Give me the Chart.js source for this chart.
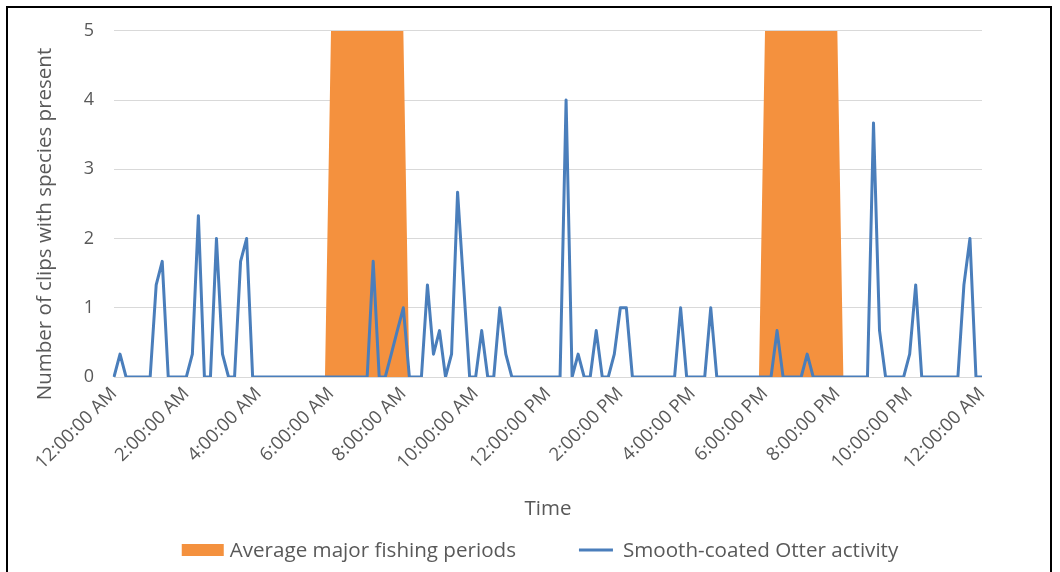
<!DOCTYPE html>
<html>
<head>
<meta charset="utf-8">
<title>Smooth-coated Otter activity</title>
<script src="https://cdn.jsdelivr.net/npm/chart.js@4/dist/chart.umd.min.js"></script>
<style>
    html, body { margin: 0; padding: 0; background: #fff; }
    #frame {
        position: absolute; left: 6px; top: 6px;
        width: 1046px; height: 600px;
        border: 2px solid #000; box-sizing: border-box;
    }
    #wrap { position: absolute; left: 0; top: 0; width: 1060px; height: 572px; }
</style>
</head>
<body>
<div id="frame"></div>
<div id="wrap"><canvas id="chart" width="1060" height="572"></canvas></div>
<script>
// one sample every 10 minutes, midnight to midnight (145 points)
const stepMinutes = 10;

const tickLabels = [
    '12:00:00 AM', '2:00:00 AM', '4:00:00 AM', '6:00:00 AM', '8:00:00 AM', '10:00:00 AM',
    '12:00:00 PM', '2:00:00 PM', '4:00:00 PM', '6:00:00 PM', '8:00:00 PM', '10:00:00 PM',
    '12:00:00 AM'
];

// each row below covers two hours
const otterActivity = [
    0, 0.33, 0, 0, 0, 0, 0, 1.33, 1.67, 0, 0, 0,
    0, 0.33, 2.33, 0, 0, 2, 0.33, 0, 0, 1.67, 2, 0,
    0, 0, 0, 0, 0, 0, 0, 0, 0, 0, 0, 0,
    0, 0, 0, 0, 0, 0, 0, 1.67, 0, 0, 0.33, 0.67,
    1, 0, 0, 0, 1.33, 0.33, 0.67, 0, 0.33, 2.67, 1.33, 0,
    0, 0.67, 0, 0, 1, 0.33, 0, 0, 0, 0, 0, 0,
    0, 0, 0, 4, 0, 0.33, 0, 0, 0.67, 0, 0, 0.33,
    1, 1, 0, 0, 0, 0, 0, 0, 0, 0, 1, 0,
    0, 0, 0, 1, 0, 0, 0, 0, 0, 0, 0, 0,
    0, 0, 0.67, 0, 0, 0, 0, 0.33, 0, 0, 0, 0,
    0, 0, 0, 0, 0, 0, 3.67, 0.67, 0, 0, 0, 0,
    0.33, 1.33, 0, 0, 0, 0, 0, 0, 0, 1.33, 2, 0,
    0
];

const fishingPeriods = [
    0, 0, 0, 0, 0, 0, 0, 0, 0, 0, 0, 0,
    0, 0, 0, 0, 0, 0, 0, 0, 0, 0, 0, 0,
    0, 0, 0, 0, 0, 0, 0, 0, 0, 0, 0, 0,
    5, 5, 5, 5, 5, 5, 5, 5, 5, 5, 5, 5,
    5, 0, 0, 0, 0, 0, 0, 0, 0, 0, 0, 0,
    0, 0, 0, 0, 0, 0, 0, 0, 0, 0, 0, 0,
    0, 0, 0, 0, 0, 0, 0, 0, 0, 0, 0, 0,
    0, 0, 0, 0, 0, 0, 0, 0, 0, 0, 0, 0,
    0, 0, 0, 0, 0, 0, 0, 0, 0, 0, 0, 0,
    5, 5, 5, 5, 5, 5, 5, 5, 5, 5, 5, 5,
    5, 0, 0, 0, 0, 0, 0, 0, 0, 0, 0, 0,
    0, 0, 0, 0, 0, 0, 0, 0, 0, 0, 0, 0,
    0
];

const seriesNames = ['Average major fishing periods', 'Smooth-coated Otter activity'];
const yAxisTitle = 'Number of clips with species present';

const textColor = '#595959';
const fontFamily = '"Open Sans", "Liberation Sans", sans-serif';

// Excel-style legend under the axis title and a y title that sits a bit low
const chartDecor = {
    id: 'chartDecor',
    afterDraw(chart) {
        const ctx = chart.ctx;
        ctx.save();
        ctx.fillStyle = textColor;
        ctx.textBaseline = 'middle';

        // y axis title
        ctx.font = `20.5px ${fontFamily}`;
        ctx.save();
        ctx.translate(45, 224);
        ctx.rotate(-Math.PI / 2);
        ctx.textAlign = 'center';
        ctx.fillText(yAxisTitle, 0, 0);
        ctx.restore();

        // legend
        ctx.font = `20.6px ${fontFamily}`;
        ctx.textAlign = 'left';
        const datasets = chart.data.datasets;
        const items = datasets.map(ds => {
            const isLine = ds.pointStyle === 'line';
            const symbolW = isLine ? 34 : 42;
            const gap = isLine ? 10 : 6;
            return { ds, isLine, symbolW, gap, width: symbolW + gap + ctx.measureText(ds.label).width };
        });
        const itemGap = 63;
        const total = items.reduce((s, it) => s + it.width, 0) + itemGap * (items.length - 1);
        let x = 540 - total / 2;
        const y = 550;
        items.forEach(it => {
            if (it.isLine) {
                ctx.strokeStyle = it.ds.borderColor;
                ctx.lineWidth = it.ds.borderWidth;
                ctx.beginPath();
                ctx.moveTo(x, y);
                ctx.lineTo(x + it.symbolW, y);
                ctx.stroke();
            } else {
                ctx.fillStyle = it.ds.backgroundColor;
                ctx.fillRect(x, y - 6, it.symbolW, 12);
            }
            ctx.fillStyle = textColor;
            ctx.fillText(it.ds.label, x + it.symbolW + it.gap, y + 1);
            x += it.width + itemGap;
        });
        ctx.restore();
    }
};

document.addEventListener('DOMContentLoaded', () => {
    const ticksEvery = 120 / stepMinutes;

    const timeLabel = i => {
        const mins = i * stepMinutes;
        const h = Math.floor(mins / 60) % 24;
        const m = mins % 60;
        const h12 = h % 12 === 0 ? 12 : h % 12;
        return `${h12}:${String(m).padStart(2, '0')}:00 ${h < 12 ? 'AM' : 'PM'}`;
    };
    const categories = otterActivity.map((_, i) => timeLabel(i));

    const ctx = document.getElementById('chart').getContext('2d');

    new Chart(ctx, {
        type: 'line',
        data: {
            labels: categories,
            datasets: [
                {
                    label: seriesNames[0],
                    data: fishingPeriods,
                    fill: 'origin',
                    backgroundColor: '#f4913e',
                    borderColor: 'rgba(0,0,0,0)',
                    borderWidth: 0,
                    pointRadius: 0,
                    pointStyle: 'rect',
                    order: 2
                },
                {
                    label: seriesNames[1],
                    data: otterActivity,
                    fill: false,
                    borderColor: '#4a7ebb',
                    backgroundColor: '#4a7ebb',
                    borderWidth: 3,
                    borderJoinStyle: 'round',
                    pointRadius: 0,
                    pointStyle: 'line',
                    tension: 0,
                    order: 1
                }
            ]
        },
        plugins: [chartDecor],
        options: {
            responsive: false,
            animation: false,
            devicePixelRatio: 1,
            layout: { padding: { top: 30, right: 78, bottom: 40, left: 33 } },
            plugins: {
                tooltip: { enabled: false },
                legend: { display: false }
            },
            scales: {
                x: {
                    grid: { display: false, drawTicks: false },
                    border: { display: false },
                    ticks: {
                        autoSkip: false,
                        minRotation: 45,
                        maxRotation: 45,
                        padding: 6,
                        color: textColor,
                        font: { family: fontFamily, size: 18.5 },
                        callback: (value, index) => index % ticksEvery === 0 ? tickLabels[index / ticksEvery] : ''
                    },
                    title: {
                        display: true,
                        text: 'Time',
                        color: textColor,
                        font: { family: fontFamily, size: 20.5 },
                        padding: { top: 0, bottom: 11 }
                    },
                    afterFit: scale => {
                        scale.height = 572 - 40 - 377;
                    }
                },
                y: {
                    min: 0,
                    max: 5,
                    grid: { color: '#d9d9d9', lineWidth: 1, drawTicks: false },
                    border: { display: false },
                    ticks: {
                        stepSize: 1,
                        padding: 20,
                        color: textColor,
                        font: { family: fontFamily, size: 18 }
                    },
                    afterFit: scale => {
                        scale.width = 114 - 33;
                    }
                }
            }
        }
    });
});
</script>
</body>
</html>
